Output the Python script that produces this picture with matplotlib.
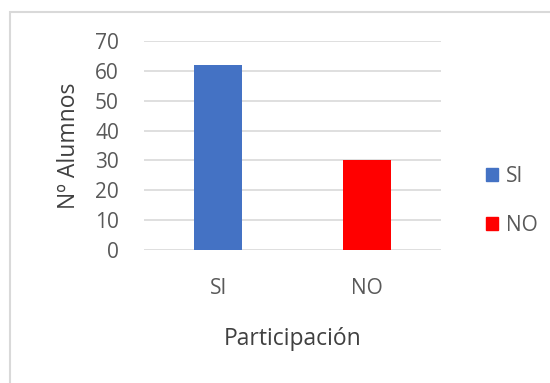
import matplotlib
matplotlib.use("Agg")
import matplotlib.pyplot as plt
from matplotlib.patches import Rectangle, Patch

categories = ["SI", "NO"]
values = [62, 30]
colors = ["#4472C4", "#FF0000"]
yticks = [0, 10, 20, 30, 40, 50, 60, 70]

plt.rcParams['font.family'] = ['Open Sans', 'DejaVu Sans']
txt = "#595959"
grid = "#D9D9D9"

W, H = 550, 383
fig = plt.figure(figsize=(W / 100, H / 100), dpi=100)
fig.patch.set_facecolor("white")

# chart frame (clipped at right and bottom)
fig.patches.append(Rectangle((10 / W, -0.1), 1.2, 1 - 12 / H + 0.1,
                             transform=fig.transFigure, fill=False,
                             edgecolor=grid, linewidth=1.5))

ax = fig.add_axes([144 / W, 1 - 250 / H, (441 - 144) / W, (250 - 41) / H])
x = range(len(categories))
ax.bar(x, values, width=0.32, color=colors, zorder=3)
ax.set_xlim(-0.5, 1.5)
ax.set_ylim(0, 70)
ax.set_yticks(yticks)
ax.yaxis.grid(True, color=grid, linewidth=1.2, zorder=0)
for s in ax.spines.values():
    s.set_visible(False)
ax.tick_params(axis="both", length=0, colors=txt, labelsize=15)
ax.tick_params(axis="y", pad=18)
ax.tick_params(axis="x", pad=20)
ax.set_xticks(list(x))
ax.set_xticklabels(categories)
ax.set_ylabel("Nº Alumnos", fontsize=16.5, color="#404040", labelpad=10)
ax.set_xlabel("Participación", fontsize=16.5, color="#404040", labelpad=20)

handles = [Patch(color=c, label=l) for c, l in zip(colors, categories)]
fig.legend(handles=handles, loc="center left",
           bbox_to_anchor=(467 / W, 1 - 201 / H), frameon=False,
           fontsize=15, labelcolor=txt, handlelength=0.6,
           handleheight=0.6, handletextpad=0.35, labelspacing=1.35)

fig.savefig("out.png", dpi=100)
